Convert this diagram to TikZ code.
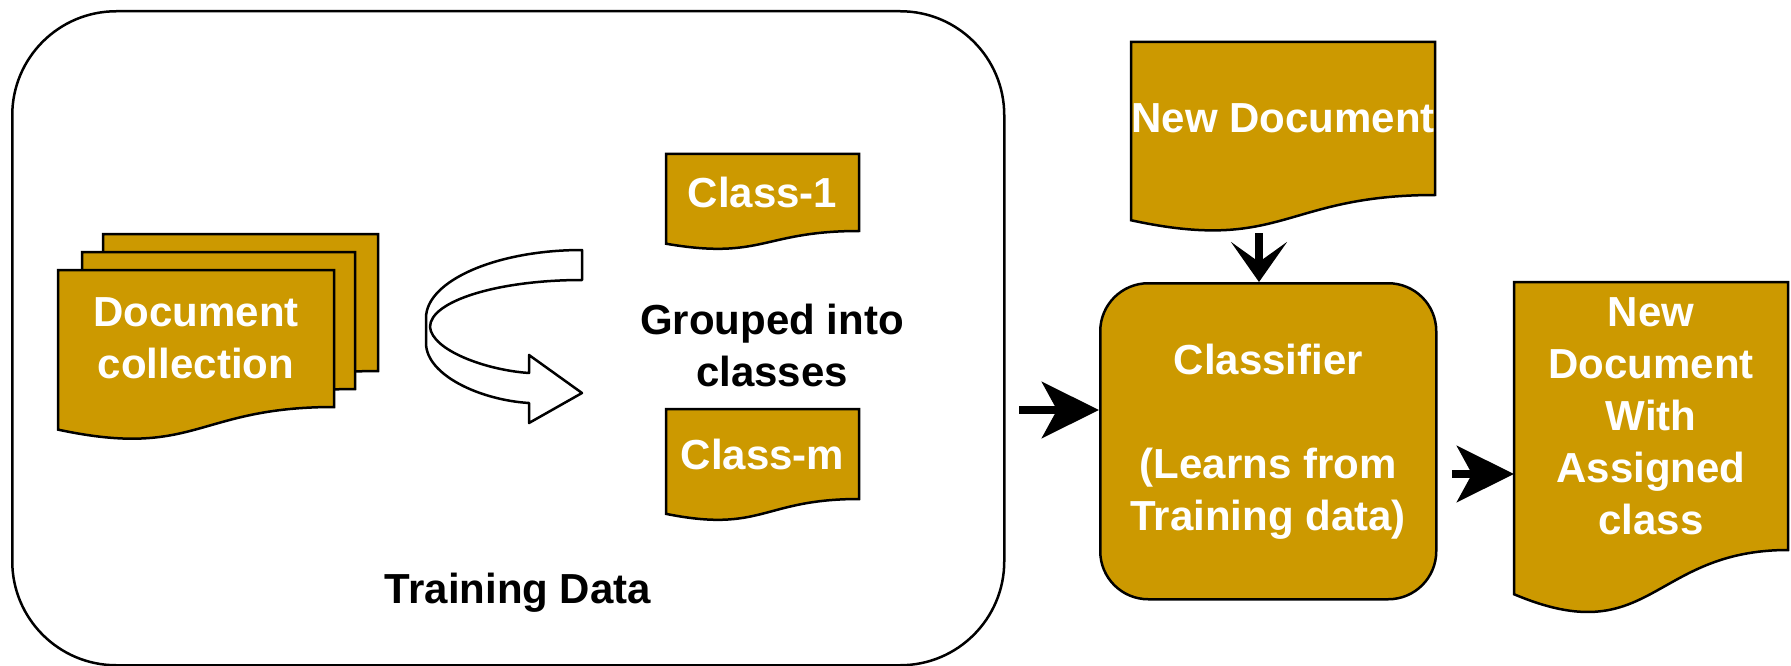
\documentclass[tikz,border=0pt]{standalone}
\usepackage{fontspec}
\setmainfont{Liberation Sans}
\usetikzlibrary{arrows.meta}

\definecolor{docgold}{HTML}{CC9900}

% sheet with a wavy lower edge
\makeatletter
\pgfdeclareshape{docsheet}{
  \inheritsavedanchors[from=rectangle]
  \inheritanchorborder[from=rectangle]
  \inheritanchor[from=rectangle]{center}
  \inheritanchor[from=rectangle]{north}
  \inheritanchor[from=rectangle]{south}
  \inheritanchor[from=rectangle]{east}
  \inheritanchor[from=rectangle]{west}
  \inheritanchor[from=rectangle]{north east}
  \inheritanchor[from=rectangle]{north west}
  \inheritanchor[from=rectangle]{south east}
  \inheritanchor[from=rectangle]{south west}
  \backgroundpath{
    \southwest \edef\docL{\the\pgf@x}\edef\docB{\the\pgf@y}
    \northeast \edef\docR{\the\pgf@x}\edef\docT{\the\pgf@y}
    \pgfmathsetmacro\docH{\docT-\docB}
    \pgfmathsetmacro\docM{(\docL+\docR)/2}
    \pgfpathmoveto{\pgfpoint{\docL}{\docT}}
    \pgfpathlineto{\pgfpoint{\docR}{\docT}}
    \pgfpathlineto{\pgfpoint{\docR}{\docB}}
    \pgfpathcurveto{\pgfpoint{\docM}{\docB}}{\pgfpoint{\docM}{\docB-0.381*\docH}}{\pgfpoint{\docL}{\docB-0.165*\docH}}
    \pgfpathclose
  }
}
\makeatother

\begin{document}
\begin{tikzpicture}
[
    x = 1pt, y = -1pt,
    every node/.style = {font = \fontsize{42}{52}\selectfont\bfseries, align = center},
    docnode/.style = {shape = docsheet, draw, fill = docgold, line width = 2.5pt,
                      text = white, inner sep = 0pt, outer sep = 0pt, anchor = north west},
    flow/.style = {line width = 8pt, -{Stealth[length = 57pt, width = 56pt, inset = 15pt]}},
]
\useasboundingbox (0,0) rectangle (1791,666);

% training data
\node[draw, line width = 2.5pt, rounded corners = 104pt, minimum width = 992pt,
      minimum height = 654pt, inner sep = 0pt, anchor = north west] (train) at (11,10) {};
\node (tdlabel) at (518,593) {Training Data};

\node[docnode, minimum width = 275pt, minimum height = 137pt] (coll3) at (103,234) {};
\node[docnode, minimum width = 273pt, minimum height = 137pt] (coll2) at (82,252) {};
\node[docnode, minimum width = 276pt, minimum height = 137pt] (coll1) at (58,270) {Document\\collection};

% turning arrow
\draw[line width = 2.5pt, fill = white, line join = round]
    (582,250) .. controls (496,250) and (426,281) .. (426,318)
    -- (426,343) .. controls (426,375) and (480,400) .. (529,403)
    -- (529,423) -- (582,393) -- (529,355) -- (529,373)
    .. controls (485,370) and (432,350) .. (430,327)
    .. controls (430,301) and (498,280) .. (582,280) -- cycle;

\node[docnode, minimum width = 193pt, minimum height = 77pt] (cls1) at (666,154) {Class-1};
\node[docnode, minimum width = 193pt, minimum height = 90pt] (clsm) at (666,409) {Class-m};
\node (grp) at (772,345) {Grouped into\\classes};

% classifier
\node[docnode, minimum width = 304pt, minimum height = 153pt] (newdoc) at (1131,42) {New Document};
\node[draw, fill = docgold, text = white, line width = 2.5pt, rounded corners = 48pt,
      minimum width = 336pt, minimum height = 316pt, inner sep = 0pt, anchor = north west]
      (clf) at (1099,282) {Classifier\\[52pt](Learns from\\Training data)};
\node[docnode, minimum width = 274pt, minimum height = 268pt] (outdoc) at (1514,282)
      {New\\Document\\With\\Assigned\\class};

\coordinate (nd) at (1259,233);
\coordinate (in1) at (1019,410);
\coordinate (in2) at (1452,474);
\draw[flow, -{Stealth[length = 40pt, width = 56pt, inset = 20pt]}] (nd) -- (nd |- clf.north);
\draw[flow] (in1) -- (in1 -| clf.west);
\draw[flow] (in2) -- (in2 -| outdoc.west);
\end{tikzpicture}
\end{document}
